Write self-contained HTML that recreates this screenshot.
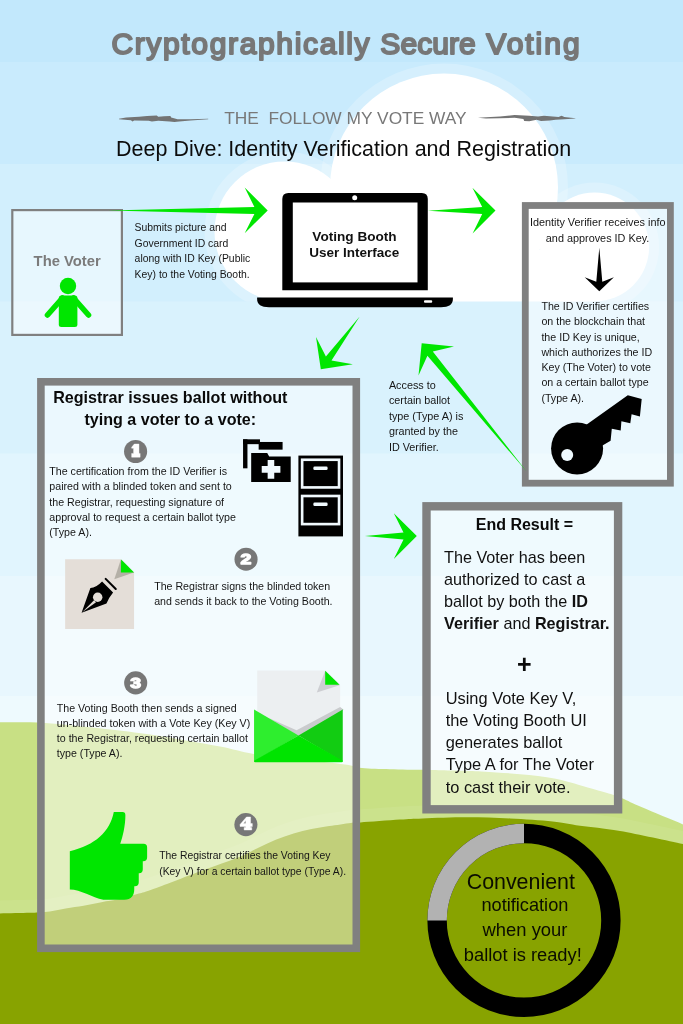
<!DOCTYPE html>
<html><head><meta charset="utf-8"><title>Cryptographically Secure Voting</title>
<style>
html,body{margin:0;padding:0;background:#c2e7fb;}
body{width:683px;height:1024px;overflow:hidden;font-family:"Liberation Sans",sans-serif;}
svg{display:block;position:absolute;left:0;top:0;will-change:transform;}
text{font-family:"Liberation Sans",sans-serif;}
.s{font-size:10.67px;fill:#161616;}
.m{font-size:16.2px;fill:#111;}
.b{font-weight:bold;}
</style></head><body>
<svg width="683" height="1024" viewBox="0 0 683 1024">
<defs>
<clipPath id="cloudclip"><rect x="0" y="0" width="683" height="301.5"/></clipPath>
<linearGradient id="hillR" x1="0" y1="0" x2="0" y2="1">
<stop offset="0" stop-color="#e3f0c2"/><stop offset="0.45" stop-color="#cfe49a"/><stop offset="1" stop-color="#b9d56b"/>
</linearGradient>
</defs>

<rect x="0" y="0" width="683" height="1024" fill="#c2e8fc"/>
<rect x="0" y="62" width="683" height="962" fill="#c9ebfd"/>
<rect x="0" y="164" width="683" height="860" fill="#d2effd"/>
<rect x="0" y="301.5" width="683" height="722.5" fill="#d9f2fd"/>
<rect x="0" y="453.5" width="683" height="570.5" fill="#e1f5fe"/>
<rect x="0" y="576" width="683" height="448" fill="#e8f7fe"/>
<rect x="0" y="696" width="683" height="328" fill="#eefafe"/>
<g clip-path="url(#cloudclip)">
<circle cx="444" cy="187.5" r="124" fill="#ffffff" fill-opacity="0.22"/>
<circle cx="284.5" cy="231.5" r="80" fill="#ffffff" fill-opacity="0.22"/>
<circle cx="594.6" cy="247" r="64.5" fill="#ffffff" fill-opacity="0.22"/>
<circle cx="444" cy="187.5" r="114" fill="#ffffff"/>
<circle cx="284.5" cy="231.5" r="70" fill="#ffffff"/>
<circle cx="594.6" cy="247" r="54.5" fill="#ffffff"/>
<rect x="284.5" y="250" width="310" height="52" fill="#fff"/>
</g>
<path d="M-20.0,721.8 C-16.7,721.9 -10.8,722.1 0.0,722.3 C10.8,722.5 28.1,722.0 45.0,723.0 C61.9,724.0 83.7,726.6 101.5,728.6 C119.3,730.6 138.0,732.8 152.0,734.8 C166.0,736.8 174.1,738.5 185.7,740.5 C197.3,742.5 210.2,744.6 221.5,746.8 C232.8,749.0 240.5,751.8 253.6,753.9 C266.7,756.0 284.8,757.5 300.0,759.3 C315.2,761.1 334.7,763.0 345.0,764.5 C355.3,766.0 354.5,767.2 362.0,768.0 C369.5,768.8 380.0,768.9 390.0,769.2 C400.0,769.5 415.1,769.7 422.0,769.8 C428.9,769.9 421.5,769.7 431.4,770.0 C441.3,770.3 466.7,770.7 481.5,771.4 C496.3,772.1 507.6,773.1 520.0,774.3 C532.4,775.5 543.8,776.4 555.7,778.8 C567.6,781.2 582.0,785.9 591.5,788.6 C601.0,791.3 607.7,793.2 612.9,794.8 C618.1,796.4 617.9,796.3 622.7,798.4 C627.6,800.5 632.0,803.0 642.0,807.3 C652.0,811.6 673.3,820.3 683.0,824.4 C692.7,828.5 697.2,830.7 700.0,832.0 L700,1030 L-20,1030Z" fill="#c8e084"/>
<path transform="translate(0,-13)" d="M-20.0,914.0 C-16.7,913.9 -8.3,913.7 0.0,913.5 C8.3,913.3 22.5,913.0 30.0,912.8 C37.5,912.5 39.0,912.7 45.0,912.0 C51.0,911.3 59.3,909.4 65.7,908.4 C72.1,907.4 77.6,906.7 83.6,905.7 C89.6,904.7 95.5,903.3 101.5,902.2 C107.5,901.1 113.3,900.5 119.3,899.1 C125.2,897.8 131.8,895.7 137.2,894.1 C142.6,892.5 141.6,893.4 152.0,889.6 C162.4,885.9 185.0,877.1 199.7,871.6 C214.4,866.1 230.3,860.8 240.0,856.8 C249.7,852.8 251.9,850.7 257.9,847.9 C263.8,845.1 269.8,842.2 275.7,839.8 C281.6,837.4 287.6,835.4 293.6,833.6 C299.6,831.8 305.6,830.4 311.5,829.1 C317.4,827.9 322.8,827.1 329.3,826.1 C335.9,825.1 345.6,823.5 350.8,822.9 C356.0,822.3 352.3,822.9 360.5,822.4 C368.7,821.9 389.6,820.3 400.0,819.6 C410.4,818.9 411.4,818.8 422.6,818.4 C433.8,818.0 452.4,817.3 467.0,817.3 C481.6,817.3 495.7,817.7 510.0,818.4 C524.3,819.1 541.0,820.2 552.7,821.4 C564.4,822.6 568.8,824.1 580.0,825.7 C591.2,827.3 602.8,828.0 620.0,831.0 C637.2,834.0 669.7,841.2 683.0,844.0 C696.3,846.8 697.2,847.3 700.0,848.0 L700,1030 L-20,1030Z" fill="#ffffff" fill-opacity="0.07"/>
<path d="M-20.0,914.0 C-16.7,913.9 -8.3,913.7 0.0,913.5 C8.3,913.3 22.5,913.0 30.0,912.8 C37.5,912.5 39.0,912.7 45.0,912.0 C51.0,911.3 59.3,909.4 65.7,908.4 C72.1,907.4 77.6,906.7 83.6,905.7 C89.6,904.7 95.5,903.3 101.5,902.2 C107.5,901.1 113.3,900.5 119.3,899.1 C125.2,897.8 131.8,895.7 137.2,894.1 C142.6,892.5 141.6,893.4 152.0,889.6 C162.4,885.9 185.0,877.1 199.7,871.6 C214.4,866.1 230.3,860.8 240.0,856.8 C249.7,852.8 251.9,850.7 257.9,847.9 C263.8,845.1 269.8,842.2 275.7,839.8 C281.6,837.4 287.6,835.4 293.6,833.6 C299.6,831.8 305.6,830.4 311.5,829.1 C317.4,827.9 322.8,827.1 329.3,826.1 C335.9,825.1 345.6,823.5 350.8,822.9 C356.0,822.3 352.3,822.9 360.5,822.4 C368.7,821.9 389.6,820.3 400.0,819.6 C410.4,818.9 411.4,818.8 422.6,818.4 C433.8,818.0 452.4,817.3 467.0,817.3 C481.6,817.3 495.7,817.7 510.0,818.4 C524.3,819.1 541.0,820.2 552.7,821.4 C564.4,822.6 568.8,824.1 580.0,825.7 C591.2,827.3 602.8,828.0 620.0,831.0 C637.2,834.0 669.7,841.2 683.0,844.0 C696.3,846.8 697.2,847.3 700.0,848.0 L700,1030 L-20,1030Z" fill="#88a300"/>
<rect x="12.299999999999999" y="210.1" width="109.6" height="124.8" fill="#ffffff" fill-opacity="0.48" stroke="#808080" stroke-width="2.2"/>
<rect x="525.3" y="205.5" width="145.09999999999997" height="277.7" fill="#ffffff" fill-opacity="0.48" stroke="#808080" stroke-width="6.8"/>
<rect x="40.9" y="381.8" width="315.4" height="566.5" fill="#ffffff" fill-opacity="0.48" stroke="#808080" stroke-width="7.6"/>
<rect x="426.5" y="506.3" width="191.59999999999994" height="303.0" fill="#ffffff" fill-opacity="0.48" stroke="#808080" stroke-width="8.4"/>
<path d="M267.7,210.4 L244.7,233.3 L254.4,213.9 L108.0,210.4 L254.4,206.9 L244.7,187.5Z" fill="#00e600"/>
<path d="M495.5,210.5 L472.6,233.5 L482.2,214.1 L427.9,210.8 L482.2,207.1 L472.4,187.7Z" fill="#00e600"/>
<path d="M320.8,369.2 L316.0,337.1 L325.9,356.4 L359.7,316.4 L331.5,360.6 L352.9,364.3Z" fill="#00e600"/>
<path d="M416.8,536.1 L393.8,559.0 L403.5,539.6 L364.9,536.0 L403.5,532.6 L393.8,513.2Z" fill="#00e600"/>
<path d="M421.7,343.3 L454.0,346.6 L432.8,351.4 L527.0,472.0 L427.4,355.8 L418.5,375.6Z" fill="#00e600"/>
<path d="M599.3,291.3 L584.7,277.3 L596.3,281.8 L599.3,247.7 L602.3,281.8 L613.9,277.3Z" fill="#000"/>
<g font-weight="normal" font-size="30" fill="#777777" stroke="#777777" stroke-width="2.0" stroke-linejoin="round" stroke-linecap="round">
<text x="111.4" y="53.5" textLength="258.2" lengthAdjust="spacing">Cryptographically</text>
<text x="380.3" y="53.5" textLength="95.5" lengthAdjust="spacing">Secure</text>
<text x="486.3" y="53.5" textLength="93.3" lengthAdjust="spacing">Voting</text>
</g>
<text x="224.2" y="123.8" font-size="17.3" fill="#787878" xml:space="preserve" textLength="242.5" lengthAdjust="spacingAndGlyphs">THE  FOLLOW MY VOTE WAY</text>
<path d="M118.9,118.7 L126.1,117.5 L139.0,116.7 L147.0,115.9 L156.7,115.6 L158.3,116.7 L164.0,116.3 L170.4,115.9 L171.2,117.5 L177.6,119.2 L190.5,119.2 L208.2,118.7 L208.2,119.2 L190.5,120.4 L179.3,121.6 L174.4,122.1 L169.6,121.6 L158.3,120.8 L151.9,121.6 L148.7,120.8 L134.2,120.4 L132.5,121.6 L130.9,120.3 L118.9,119.2Z" fill="#737373"/>
<path d="M478.0,117.7 L486.0,117.3 L500.0,116.6 L514.6,115.1 L529.3,115.7 L538.1,116.6 L543.9,115.7 L558.6,117.1 L561.5,115.7 L564.4,117.1 L575.4,118.3 L575.4,118.6 L564.4,119.2 L555.6,119.8 L549.8,120.5 L541.0,120.9 L536.6,119.8 L529.3,121.2 L524.2,120.9 L523.4,119.0 L514.6,117.8 L500.0,118.3 L486.0,118.5Z" fill="#737373"/>
<text x="116.1" y="155.5" font-size="21.5" fill="#0c0c0c" textLength="455" lengthAdjust="spacingAndGlyphs">Deep Dive: Identity Verification and Registration</text>
<text x="67.2" y="266.3" font-size="14.8" font-weight="bold" fill="#7b7b7b" text-anchor="middle">The Voter</text>
<g fill="#00e600" stroke="none"><circle cx="68" cy="286" r="8.2"/><rect x="58.8" y="295.5" width="18.6" height="31.5" rx="2.5"/></g>
<path d="M62.5,298 L47.5,315 M73.5,298 L88.5,315" stroke="#00e600" stroke-width="5.6" stroke-linecap="round" fill="none"/>
<text class="s" style="font-size:10.42px" x="134.6" y="231.4">Submits picture and</text>
<text class="s" style="font-size:10.42px" x="134.6" y="246.8">Government ID card</text>
<text class="s" style="font-size:10.42px" x="134.6" y="262.1">along with ID Key (Public</text>
<text class="s" style="font-size:10.42px" x="134.6" y="277.5">Key) to the Voting Booth.</text>
<path d="M282.3,290.2 L282.3,199 Q282.3,193 288.3,193 L421.8,193 Q427.8,193 427.8,199 L427.8,290.2Z" fill="#000"/>
<rect x="292.8" y="202.5" width="124.7" height="79.9" fill="#fff"/>
<circle cx="354.7" cy="197.7" r="2.5" fill="#fff"/>
<path d="M257.1,297.6 L452.9,297.6 L452.9,299 Q452.9,307.2 441,307.2 L269,307.2 Q257.1,307.2 257.1,299Z" fill="#000"/>
<rect x="424" y="300.2" width="8.2" height="2.6" rx="1" fill="#fff"/>
<text x="354.5" y="241.2" font-size="13.6" font-weight="bold" fill="#111" text-anchor="middle">Voting Booth</text>
<text x="354.3" y="257.3" font-size="13.5" font-weight="bold" fill="#111" text-anchor="middle">User Interface</text>
<text class="s" style="font-size:10.85px" x="597.7" y="226.4" text-anchor="middle">Identity Verifier receives info</text>
<text class="s" style="font-size:10.85px" x="597.6" y="241.6" text-anchor="middle">and approves ID Key.</text>
<text class="s" x="541.4" y="309.9">The ID Verifier certifies</text>
<text class="s" x="541.4" y="325.2">on the blockchain that</text>
<text class="s" x="541.4" y="340.5">the ID Key is unique,</text>
<text class="s" x="541.4" y="355.8">which authorizes the ID</text>
<text class="s" x="541.4" y="371.1">Key (The Voter) to vote</text>
<text class="s" x="541.4" y="386.4">on a certain ballot type</text>
<text class="s" x="541.4" y="401.7">(Type A).</text>
<g fill="#000"><circle cx="577.1" cy="448.4" r="26"/>
<path d="M586,425 L627.8,395.3 L641.7,398.9 L639.9,416.6 L631.6,414.3 L630.3,423.2 L621.4,421.2 L620.7,430.6 L611.8,428.8 L610.6,440.7 L599.9,447 L590,460Z"/></g>
<circle cx="567.2" cy="454.9" r="6" fill="#eef9fe"/>
<text class="s" style="font-size:10.8px" x="388.9" y="388.9">Access to</text>
<text class="s" style="font-size:10.8px" x="388.9" y="404.3">certain ballot</text>
<text class="s" style="font-size:10.8px" x="388.9" y="419.7">type (Type A) is</text>
<text class="s" style="font-size:10.8px" x="388.9" y="435.1">granted by the</text>
<text class="s" style="font-size:10.8px" x="388.9" y="450.5">ID Verifier.</text>
<text x="170.3" y="402.9" font-size="16.1" font-weight="bold" fill="#0a0a0a" text-anchor="middle">Registrar issues ballot without</text>
<text x="170.3" y="424.7" font-size="16.1" font-weight="bold" fill="#0a0a0a" text-anchor="middle">tying a voter to a vote:</text>
<circle cx="135.6" cy="451.5" r="11.55" fill="#777777"/>
<path transform="translate(135.6,451.5)" d="M-3.95,-4.25 L-1.32,-7.47 L3.37,-7.47 L3.37,1.9 L4.54,1.9 L4.54,5.71 L-3.95,5.71 L-3.95,1.9 L-2.02,1.9 L-2.02,-3.25 L-3.95,-3.25Z" fill="#fff" stroke="#fff" stroke-width="0.4" stroke-linejoin="round"/>
<circle cx="246.05" cy="559.2" r="11.55" fill="#777777"/>
<g transform="translate(246.05,564.2) scale(1.26,1)"><text x="0" y="0" font-size="15.5" font-weight="bold" fill="#fff" stroke="#fff" stroke-width="1.3" stroke-linejoin="round" text-anchor="middle">2</text></g>
<circle cx="135.7" cy="682.9" r="11.55" fill="#777777"/>
<g transform="translate(135.7,687.9) scale(1.26,1)"><text x="0" y="0" font-size="15.5" font-weight="bold" fill="#fff" stroke="#fff" stroke-width="1.3" stroke-linejoin="round" text-anchor="middle">3</text></g>
<circle cx="245.9" cy="824.6" r="11.55" fill="#777777"/>
<path transform="translate(245.9,824.6)" fill-rule="evenodd" d="M-5.86,-0.15 L0.59,-7.64 L4.69,-7.64 L4.69,-1.02 L6.44,-1.02 L6.44,1.9 L4.69,1.9 L4.69,2.78 L5.86,2.78 L5.86,5.42 L-1.76,5.42 L-1.76,2.78 L-0.29,2.78 L-0.29,1.9 L-5.86,1.9Z M-2.5,-1.02 L-0.1,-4.0 L-0.1,-1.02Z" fill="#fff" stroke="#fff" stroke-width="0.4" stroke-linejoin="round"/>
<text class="s" x="49.3" y="474.7">The certification from the ID Verifier is</text>
<text class="s" x="49.3" y="490.1">paired with a blinded token and sent to</text>
<text class="s" x="49.3" y="505.5">the Registrar, requesting signature of</text>
<text class="s" x="49.3" y="520.9">approval to request a certain ballot type</text>
<text class="s" x="49.3" y="536.3">(Type A).</text>
<text class="s" style="font-size:10.64px" x="154.2" y="589.9">The Registrar signs the blinded token</text>
<text class="s" style="font-size:10.64px" x="154.2" y="604.7">and sends it back to the Voting Booth.</text>
<text class="s" style="font-size:10.65px" x="56.8" y="712.0">The Voting Booth then sends a signed</text>
<text class="s" style="font-size:10.65px" x="56.8" y="727.0">un-blinded token with a Vote Key (Key V)</text>
<text class="s" style="font-size:10.65px" x="56.8" y="742.0">to the Registrar, requesting certain ballot</text>
<text class="s" style="font-size:10.65px" x="56.8" y="757.0">type (Type A).</text>
<text class="s" style="font-size:10.38px" x="159.2" y="859.0">The Registrar certifies the Voting Key</text>
<text class="s" style="font-size:10.38px" x="159.2" y="875.0">(Key V) for a certain ballot type (Type A).</text>
<g transform="translate(220,420) scale(0.21963)" fill="#000">
<rect x="105" y="88" width="20" height="132"/><rect x="105" y="88" width="77" height="22"/><rect x="176" y="100" width="109" height="35"/>
<path d="M142,150 L215,150 L224,166 L322,166 L322,282 L142,282Z"/>
<path d="M217,182 L247,182 L247,210 L275,210 L275,240 L247,240 L247,268 L217,268 L217,240 L190,240 L190,210 L217,210Z" fill="#f0f9fe"/>
<rect x="357" y="162" width="203" height="368"/>
<rect x="374" y="181" width="168" height="126" fill="none" stroke="#f0f9fe" stroke-width="12"/>
<rect x="374" y="346" width="168" height="128" fill="none" stroke="#f0f9fe" stroke-width="12"/>
<rect x="425" y="212" width="65" height="16" rx="6" fill="#f0f9fe"/><rect x="425" y="376" width="65" height="16" rx="6" fill="#f0f9fe"/>
</g>
<g transform="translate(55,550) scale(0.13177)">
<path d="M77,70 L500,70 L600,170 L600,600 L77,600Z" fill="#e4ded8"/>
<path d="M500,72 L450,222 L598,170Z" fill="#b4b0a7"/>
<path d="M502,72 L600,170 L500,170Z" fill="#00e600"/>
<path d="M201.8,475.3 L268.5,289.2 Q312.9,286.4 357.3,239.2 L440.7,322.5 Q408.5,361.4 390.7,405.9Z" fill="#000"/>
<circle cx="324" cy="358.6" r="36" fill="#e4ded8"/>
<path d="M296,381 L311.5,396.5 L206,472.5Z" fill="#e4ded8"/>
<path d="M384.5,219 L461,295.5" stroke="#000" stroke-width="15.6" stroke-linecap="round"/>
</g>
<g transform="translate(240,655) scale(0.17569)">
<path d="M98,88 L485,88 L570,172 L570,560 L98,560Z" fill="#eceff1"/>
<path d="M485,90 L437,213 L567,172Z" fill="#cdced2"/>
<path d="M485,90 L567,170 L485,170Z" fill="#00e600"/>
<path d="M160,357 L333,462 L590,312 L570,296 L322,429Z" fill="#c9cbcd"/>
<path d="M80,310 L333,458 L80,608Z" fill="#2eee2e"/>
<path d="M585,310 L333,458 L585,608Z" fill="#12cc12"/>
<path d="M80,602 L333,458 L585,602 L585,605 Q585,611 579,611 L86,611 Q80,611 80,605Z" fill="#00e400"/>
</g>
<g transform="translate(55,800) scale(0.16106)">
<path d="M92,318 C250,280 340,200 365,75 L420,75 Q437,75 437,95 C437,160 420,230 405,272 L550,272 Q572,272 572,295 L572,355 Q572,380 547,380 L545,380 L545,430 Q545,455 522,455 L520,455 L520,510 Q520,535 496,535 L492,535 L492,556 C492,590 475,620 430,620 L300,620 C230,606 160,556 92,556Z" fill="#00e600"/>
</g>
<text x="524.4" y="530.2" font-size="16" font-weight="bold" fill="#0a0a0a" text-anchor="middle">End Result =</text>
<text class="m" x="444" y="562.6">The Voter has been</text>
<text class="m" x="444" y="584.8">authorized to cast a</text>
<text class="m" x="444" y="607">ballot by both the <tspan class="b">ID</tspan></text>
<text class="m" x="444" y="629.3"><tspan class="b">Verifier</tspan> and <tspan class="b">Registrar.</tspan></text>
<text x="524.2" y="673.2" font-size="25" font-weight="bold" fill="#0a0a0a" text-anchor="middle">+</text>
<text class="m" style="font-size:16.4px" x="445.7" y="703.9">Using Vote Key V,</text>
<text class="m" style="font-size:16.4px" x="445.7" y="726.0">the Voting Booth UI</text>
<text class="m" style="font-size:16.4px" x="445.7" y="748.2">generates ballot</text>
<text class="m" style="font-size:16.4px" x="445.7" y="770.3">Type A for The Voter</text>
<text class="m" style="font-size:16.4px" x="445.7" y="792.5">to cast their vote.</text>
<circle cx="524" cy="920.4" r="86.9" fill="none" stroke="#000" stroke-width="19.39999999999999"/>
<path d="M437.1,920.4 A86.9,86.9 0 0 1 524,833.5" fill="none" stroke="#b2b2b2" stroke-width="19.39999999999999"/>
<text x="520.8" y="889" font-size="21.4" fill="#0b0d00" text-anchor="middle">Convenient</text>
<text x="524.9" y="911" font-size="18.2" fill="#0b0d00" text-anchor="middle">notification</text>
<text x="525" y="935.6" font-size="18.4" fill="#0b0d00" text-anchor="middle">when your</text>
<text x="522.8" y="960.8" font-size="18.3" fill="#0b0d00" text-anchor="middle">ballot is ready!</text>
</svg></body></html>
